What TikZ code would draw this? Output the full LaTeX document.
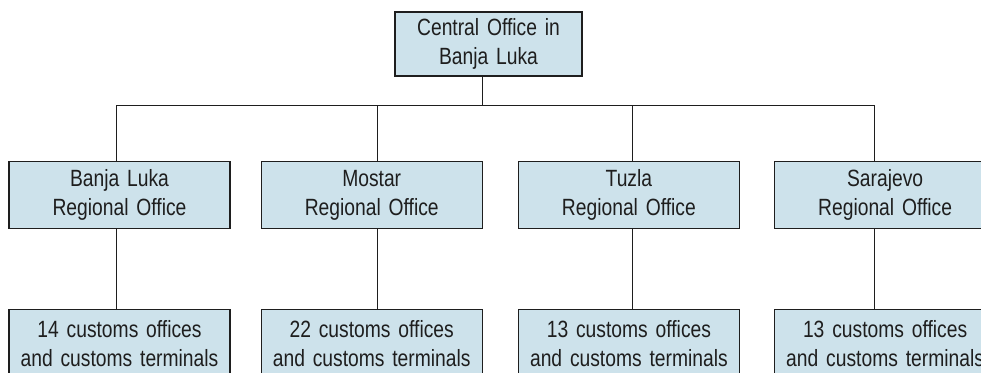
\documentclass[tikz,border=0pt]{standalone}
\usepackage{fontspec}
\setmainfont[FakeStretch=0.82]{Liberation Sans}
\usepackage{tikz}
\usetikzlibrary{positioning}
\definecolor{boxfill}{RGB}{205,226,235}
\definecolor{ink}{RGB}{30,30,30}

\begin{document}
\begin{tikzpicture}[x=1pt, y=1pt, node distance = 80pt,
                    office/.style = {draw=ink, line width=1.2pt, fill=boxfill, text=ink,
                      align=center, inner sep=0pt, text width=221pt, minimum height=67pt,
                      font=\fontsize{23.5}{29}\selectfont},
                    link/.style = {draw=ink, line width=0.9pt}]
\useasboundingbox (0,0) rectangle (981,372);
\clip (0,0) rectangle (981,372);
\begin{scope}[node distance=80pt and 30pt]
\node[office, text width=187pt, minimum height=64pt] (c) at (488.5,328) {Central Office in\\Banja Luka};
\node[office] (bl) at (119.5,177) {Banja Luka\\Regional Office};
\node[office, right=30pt of bl] (mo) {Mostar\\Regional Office};
\node[office, right=35pt of mo] (tu) {Tuzla\\Regional Office};
\node[office, right=34pt of tu] (sa) {Sarajevo\\Regional Office};
\node[office, below= of bl] (blc) {14 customs offices\\and customs terminals};
\node[office, below= of mo] (moc) {22 customs offices\\and customs terminals};
\node[office, below= of tu] (tuc) {13 customs offices\\and customs terminals};
\node[office, below= of sa] (sac) {13 customs offices\\and customs terminals};
\draw[link] ([xshift=-6.5pt]c.south) -- ++(0,-29) coordinate (bus);
\draw[link] ([xshift=-3.5pt]bl.north) |- (bus) -| ([xshift=-10.5pt]sa.north);
\draw[link] ([xshift=5.5pt]mo.north) |- (bus);
\draw[link] ([xshift=3.5pt]tu.north) |- (bus);
\draw[link] ([xshift=-3.5pt]bl.south) -- ([xshift=-3.5pt]blc.north);
\draw[link] ([xshift=5.5pt]mo.south) -- ([xshift=5.5pt]moc.north);
\draw[link] ([xshift=3.5pt]tu.south) -- ([xshift=3.5pt]tuc.north);
\draw[link] ([xshift=-10.5pt]sa.south) -- ([xshift=-10.5pt]sac.north);
\end{scope}
\end{tikzpicture}
\end{document}
